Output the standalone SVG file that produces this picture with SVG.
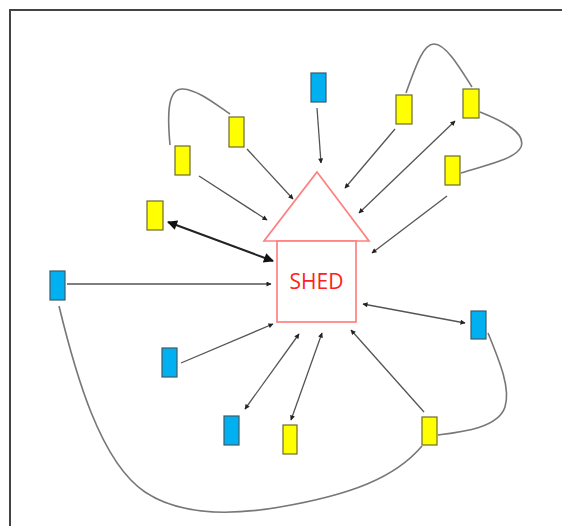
<svg xmlns="http://www.w3.org/2000/svg" width="562" height="526" viewBox="0 0 562 526">
  <style>
    .blue { fill: #00B0F0; stroke: #3c5a68; stroke-width: 1.2; }
    .yellow { fill: #FFFF00; stroke: #6b6b2a; stroke-width: 1.2; }
    .link { fill: none; stroke: #555; stroke-width: 1.3; }
    .bold { fill: none; stroke: #222; stroke-width: 2; }
    .loop { fill: none; stroke: #777; stroke-width: 1.6; }
    .house { fill: #fff; stroke: #FF8080; stroke-width: 1.7; }
    .label { font-family: "Open Sans", "Liberation Sans", sans-serif; font-size: 21px; fill: #FF2020; }
  </style>
  <defs>
    <marker id="tip" viewBox="0 0 10 10" refX="9" refY="5" markerUnits="userSpaceOnUse" markerWidth="6" markerHeight="5" orient="auto-start-reverse">
      <path d="M0,0 L10,5 L0,10 Z" fill="#222"/>
    </marker>
    <marker id="bigtip" viewBox="0 0 10 10" refX="9" refY="5" markerUnits="userSpaceOnUse" markerWidth="13" markerHeight="10" orient="auto-start-reverse">
      <path d="M0,0 L10,5 L0,10 Z" fill="#111"/>
    </marker>
  </defs>

  <rect width="562" height="526" fill="#fff"/>
  <!-- outer frame -->
  <path d="M10,526 V10 H562" fill="none" stroke="#444" stroke-width="2"/>

  <!-- connectors -->
  <g id="connectors">
    <line class="link" x1="317" y1="108" x2="321" y2="163" marker-end="url(#tip)"/>
    <line class="link" x1="247" y1="149" x2="293" y2="199" marker-end="url(#tip)"/>
    <line class="link" x1="199" y1="176" x2="267" y2="220" marker-end="url(#tip)"/>
    <line class="bold" x1="168" y1="222" x2="273" y2="261" marker-start="url(#bigtip)" marker-end="url(#bigtip)"/>
    <line class="link" x1="67" y1="284" x2="271" y2="284" marker-end="url(#tip)"/>
    <line class="link" x1="395" y1="129" x2="345" y2="188" marker-end="url(#tip)"/>
    <line class="link" x1="455" y1="121" x2="359" y2="213" marker-start="url(#tip)" marker-end="url(#tip)"/>
    <line class="link" x1="447" y1="196" x2="372" y2="253" marker-end="url(#tip)"/>
    <line class="link" x1="465" y1="323" x2="363" y2="304" marker-start="url(#tip)" marker-end="url(#tip)"/>
    <line class="link" x1="181" y1="363" x2="273" y2="324" marker-end="url(#tip)"/>
    <line class="link" x1="245" y1="409" x2="299" y2="334" marker-start="url(#tip)" marker-end="url(#tip)"/>
    <line class="link" x1="291" y1="420" x2="322" y2="333" marker-start="url(#tip)" marker-end="url(#tip)"/>
    <line class="link" x1="424" y1="412" x2="351" y2="330" marker-end="url(#tip)"/>

    <path class="loop" d="M170,145 C167,112 168,88 183,89 C198,90 215,104 230,114"/>
    <path class="loop" d="M406,93 C417,62 424,44 434,44 C446,44 460,68 472,87"/>
    <path class="loop" d="M480,112 C505,122 526,133 521,147 C515,160 482,166 461,173"/>
    <path class="loop" d="M488,333 C499,360 511,388 505,407 C498,428 462,432 438,435"/>
    <path class="loop" d="M59,306 C75,372 100,462 145,492 C178,514 228,516 280,507 C350,495 395,478 422,446"/>
  </g>

  <!-- shed -->
  <g id="shed">
    <polygon class="house" points="317,172 369,241 264,241"/>
    <rect class="house" x="277" y="241" width="79" height="81"/>
    <text class="label" x="316.5" y="289" text-anchor="middle">SHED</text>
  </g>

  <!-- nodes -->
  <g id="n-blue-top"><rect class="blue" x="311" y="73" width="15" height="29"/></g>
  <g id="n-yellow-a"><rect class="yellow" x="229" y="117" width="15" height="30"/></g>
  <g id="n-yellow-b"><rect class="yellow" x="175" y="146" width="15" height="29"/></g>
  <g id="n-yellow-c"><rect class="yellow" x="147" y="201" width="16" height="29"/></g>
  <g id="n-blue-left"><rect class="blue" x="50" y="271" width="15" height="29"/></g>
  <g id="n-yellow-tr1"><rect class="yellow" x="396" y="95" width="16" height="29"/></g>
  <g id="n-yellow-tr2"><rect class="yellow" x="463" y="89" width="16" height="29"/></g>
  <g id="n-yellow-r3"><rect class="yellow" x="445" y="156" width="15" height="29"/></g>
  <g id="n-blue-right"><rect class="blue" x="471" y="311" width="15" height="28"/></g>
  <g id="n-blue-bl"><rect class="blue" x="162" y="348" width="15" height="29"/></g>
  <g id="n-blue-bottom"><rect class="blue" x="224" y="416" width="15" height="29"/></g>
  <g id="n-yellow-bottom"><rect class="yellow" x="283" y="425" width="14" height="29"/></g>
  <g id="n-yellow-br"><rect class="yellow" x="422" y="417" width="15" height="28"/></g>
</svg>
